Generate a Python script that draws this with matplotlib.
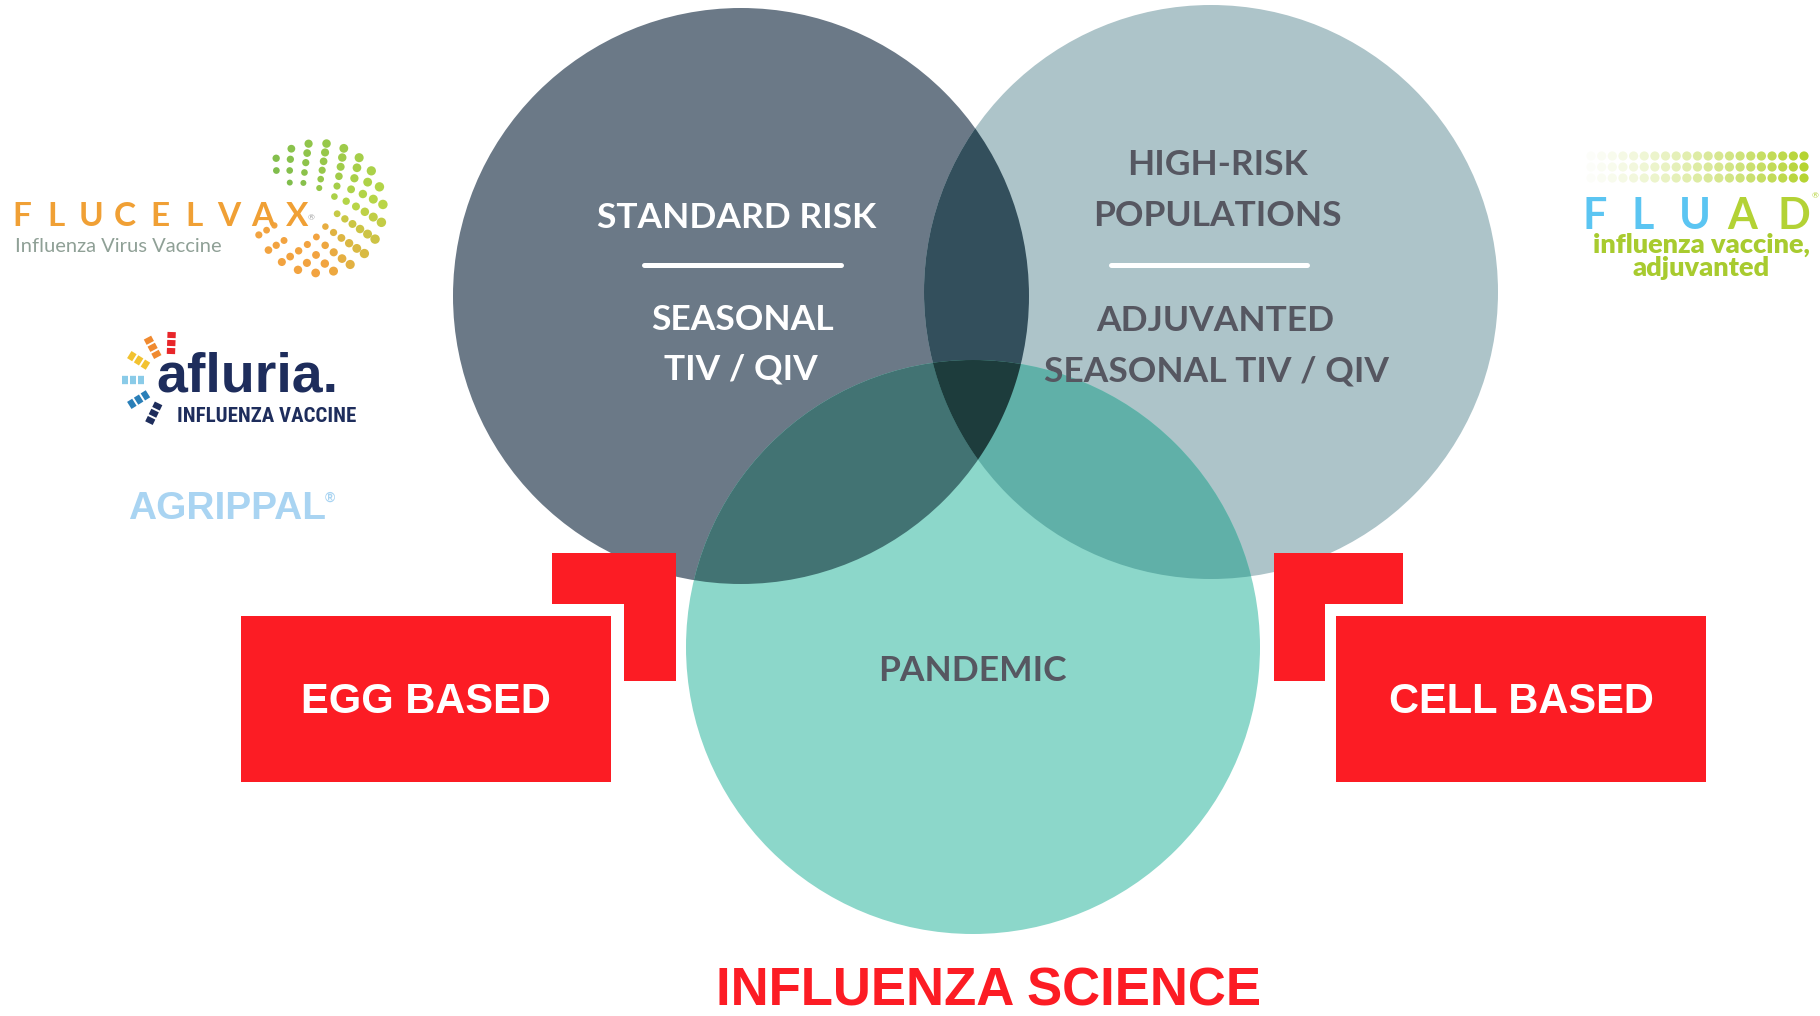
import numpy as np
import matplotlib
matplotlib.use("Agg")
import matplotlib.pyplot as plt
from matplotlib.patches import Circle, Polygon, Rectangle
from matplotlib import font_manager as fm

# ---------------- data (texts) ----------------
circle_titles = ["STANDARD RISK", ["HIGH-RISK", "POPULATIONS"], "PANDEMIC"]
circle_subtitles = [["SEASONAL", "TIV / QIV"], ["ADJUVANTED", "SEASONAL TIV / QIV"]]
box_labels = ["EGG BASED", "CELL BASED"]
title_text = "INFLUENZA SCIENCE"
left_logos = ["FLUCELVAX", "Influenza Virus Vaccine", "afluria.", "INFLUENZA VACCINE", "AGRIPPAL"]
right_logo = ["F", "L", "U", "A", "D"]
right_logo_sub = ["influenza vaccine,", "adjuvanted"]

# ---------------- layout / style ----------------
W, H = 1820, 1016
C = [(741, 296, 288), (1211, 292, 287), (973, 647, 287)]
col1, col2, col3 = "#6B7987", "#ADC4C9", "#8CD7CA"
col12, col13, col23, col123 = "#334F5C", "#427373", "#60B0A8", "#1D3C3C"
RED = "#FC1C24"
DARK = "#565761"


def pick(*names):
    for n in names:
        try:
            fm.findfont(fm.FontProperties(family=n), fallback_to_default=False)
            return n
        except Exception:
            pass
    return "DejaVu Sans"


F_CIRC = pick("Lato", "Open Sans", "DejaVu Sans")
F_ARIAL = pick("Liberation Sans", "DejaVu Sans")
F_NARROW = pick("Liberation Sans Narrow", "Roboto Condensed", "DejaVu Sans Condensed",
                "Open Sans Condensed", "Liberation Sans")
NARROW_OK = F_NARROW not in ("Liberation Sans", "DejaVu Sans")
F_LOGO = pick("Lato", "DejaVu Sans")

fig = plt.figure(figsize=(W / 100, H / 100), dpi=100)
ax = fig.add_axes([0, 0, 1, 1])
ax.set_xlim(0, W)
ax.set_ylim(H, 0)
ax.axis("off")


def circ(i, **kw):
    x, y, r = C[i]
    return Circle((x, y), r, transform=ax.transData, **kw)


# base circles
for i, c in enumerate([col1, col2, col3]):
    ax.add_patch(circ(i, facecolor=c, edgecolor="none", zorder=1))

# pairwise intersections
for (a, b, c) in [(1, 0, col12), (2, 0, col13), (2, 1, col23)]:
    p = circ(a, facecolor=c, edgecolor="none", zorder=2)
    ax.add_patch(p)
    p.set_clip_path(circ(b))


def lens(i, j, n=400):
    x1, y1, r1 = C[i]
    x2, y2, r2 = C[j]
    d = np.hypot(x2 - x1, y2 - y1)
    ph12 = np.arctan2(y2 - y1, x2 - x1)
    ph21 = ph12 + np.pi
    a1 = np.arccos((d ** 2 + r1 ** 2 - r2 ** 2) / (2 * d * r1))
    a2 = np.arccos((d ** 2 + r2 ** 2 - r1 ** 2) / (2 * d * r2))
    t1 = np.linspace(ph12 - a1, ph12 + a1, n)
    t2 = np.linspace(ph21 - a2, ph21 + a2, n)
    return np.vstack([np.c_[x1 + r1 * np.cos(t1), y1 + r1 * np.sin(t1)],
                      np.c_[x2 + r2 * np.cos(t2), y2 + r2 * np.sin(t2)]])


tri = Polygon(lens(0, 1), closed=True, facecolor=col123, edgecolor="none", zorder=3)
ax.add_patch(tri)
tri.set_clip_path(circ(2))

# circle texts
ck = dict(family=F_CIRC, fontweight="bold", fontsize=25.5, ha="center", va="baseline", zorder=10)
ax.text(737, 228, circle_titles[0], color="white", **ck)
ax.plot([644, 841], [265, 265], color="white", lw=3.6, solid_capstyle="round", zorder=10)
ax.text(742, 330, circle_subtitles[0][0], color="white", **ck)
ax.text(741, 380, circle_subtitles[0][1], color="white", **ck)

ax.text(1217, 175, circle_titles[1][0], color=DARK, **ck)
ax.text(1217, 226, circle_titles[1][1], color=DARK, **ck)
ax.plot([1111, 1307], [265, 265], color="white", lw=3.6, solid_capstyle="round", zorder=10)
ax.text(1215, 331, circle_subtitles[1][0], color=DARK, **ck)
ax.text(1216, 382, circle_subtitles[1][1], color=DARK, **ck)

ax.text(972, 681, circle_titles[2], color=DARK, **ck)

# red boxes
ax.add_patch(Rectangle((241, 616), 370, 166, facecolor=RED, edgecolor="none", zorder=5))
ax.add_patch(Polygon([(552, 553), (676, 553), (676, 681), (624, 681), (624, 604), (552, 604)],
                     closed=True, facecolor=RED, edgecolor="none", zorder=5))
ax.add_patch(Rectangle((1336, 616), 370, 166, facecolor=RED, edgecolor="none", zorder=5))
ax.add_patch(Polygon([(1274, 553), (1403, 553), (1403, 604), (1325, 604), (1325, 681), (1274, 681)],
                     closed=True, facecolor=RED, edgecolor="none", zorder=5))
bk = dict(family=F_ARIAL, fontweight="bold", fontsize=30, color="white", ha="center", va="baseline", zorder=10)
ax.text(426, 713, box_labels[0], **bk)
ax.text(1521, 713, box_labels[1], **bk)

# title
ax.text(988, 1005, title_text, family=F_ARIAL, fontweight="bold", fontsize=38, color=RED,
        ha="center", va="baseline", zorder=10)

# ---------------- left logos ----------------
# FLUCELVAX
orange = "#F0A035"
xs = 22 + 34.4 * np.arange(len(left_logos[0]))
for x, ch in zip(xs, left_logos[0]):
    ax.text(x, 226, ch, family=F_LOGO, fontweight="bold", fontsize=24, color=orange,
            ha="center", va="baseline", zorder=10)
ax.text(311, 220, "®", family=F_LOGO, fontsize=6, color="#A0A0A0", ha="center", va="baseline")
ax.text(15, 252, left_logos[1], family=F_LOGO, fontsize=14.5, color="#8FA096", ha="left", va="baseline")

# ring of dots (open towards the wordmark on the left)
cx, cy = 318, 208
green = np.array([0.50, 0.74, 0.30])
lgreen = np.array([0.72, 0.84, 0.28])
org = np.array([0.95, 0.64, 0.25])


def dot_color(a):
    tt = (140 - a) / 300.0
    if tt < 0.45:
        return green + (lgreen - green) * (tt / 0.45)
    return lgreen + (org - lgreen) * min(1, (tt - 0.45) / 0.3)


for k, r in enumerate([20, 29, 38, 47, 56, 65]):
    step = np.rad2deg(18.0 / r)
    a_start = 138 - (step / 2 if k % 2 else 0)
    angs = np.arange(a_start, -165, -step)
    keep = []
    for a in angs:
        if a < -118 and r < 40:
            continue
        if a > 118 and r < 28:
            continue
        keep.append(a)
    angs = np.array(keep)
    th = np.deg2rad(angs)
    tt = np.clip((140 - angs) / 300.0, 0, 1)
    size = (14 + 0.5 * r) * (0.4 + 0.6 * np.sin(np.pi * (0.08 + 0.84 * tt)))
    cols = np.array([dot_color(a) for a in angs])
    ax.scatter(cx + r * np.cos(th), cy - r * np.sin(th), s=size, c=cols,
               edgecolors="none", zorder=4)

# afluria
navy = "#1E2D5C"
ax.text(156, 391, left_logos[2], family=F_ARIAL, fontweight="bold", fontsize=40, color=navy,
        ha="left", va="baseline")
ax.text(177, 422, left_logos[3], family=F_NARROW, fontweight="bold",
        fontsize=(15 if NARROW_OK else 11.5), color=navy, ha="left", va="baseline")
ray_ang = [88, 118, 148, 180, 212, 244]
ray_col = ["#E8262A", "#F08A30", "#F2C230", "#8ACBE8", "#2A7FB8", "#1E2D5C"]
fx, fy = 170, 380
for a, c in zip(ray_ang, ray_col):
    ar = np.deg2rad(a)
    for r0, r1 in [(26, 32), (34, 40), (42, 48)]:
        ax.plot([fx + r0 * np.cos(ar), fx + r1 * np.cos(ar)],
                [fy - r0 * np.sin(ar), fy - r1 * np.sin(ar)],
                color=c, lw=6, solid_capstyle="butt", zorder=4)

# AGRIPPAL
ax.text(128, 519, left_logos[4], family=F_ARIAL, fontweight="bold", fontsize=28, color="#A9D4F2",
        ha="left", va="baseline")
ax.text(330, 502, "®", family=F_ARIAL, fontweight="bold", fontsize=10, color="#A9D4F2",
        ha="center", va="baseline")

# ---------------- right logo (FLUAD) ----------------
lime = np.array([0.71, 0.83, 0.20])
gx = np.linspace(1591, 1804, 21)
for gy in [156, 167, 178]:
    alphas = np.linspace(0.06, 1.0, len(gx)) ** 1.3
    cols = np.c_[np.tile(lime, (len(gx), 1)), alphas]
    ax.scatter(gx, np.full_like(gx, gy), s=44, c=cols, edgecolors="none", zorder=4)
fl_x = [1595, 1643, 1695, 1742, 1794]
fl_c = ["#5BC5F2", "#5BC5F2", "#5BC5F2", "#B3D235", "#B3D235"]
for x, ch, c in zip(fl_x, right_logo, fl_c):
    ax.text(x, 229, ch, family=F_LOGO, fontweight="bold", fontsize=31, color=c,
            ha="center", va="baseline")
ax.text(1815, 198, "®", family=F_LOGO, fontsize=6, color="#B3D235", ha="center", va="baseline")
ax.text(1701, 253, right_logo_sub[0], family=F_LOGO, fontweight="heavy", fontsize=19.5,
        color="#A8CB2F", ha="center", va="baseline")
ax.text(1701, 276, right_logo_sub[1], family=F_LOGO, fontweight="heavy", fontsize=19.5,
        color="#A8CB2F", ha="center", va="baseline")

fig.savefig("out.png", dpi=100, facecolor="white")
